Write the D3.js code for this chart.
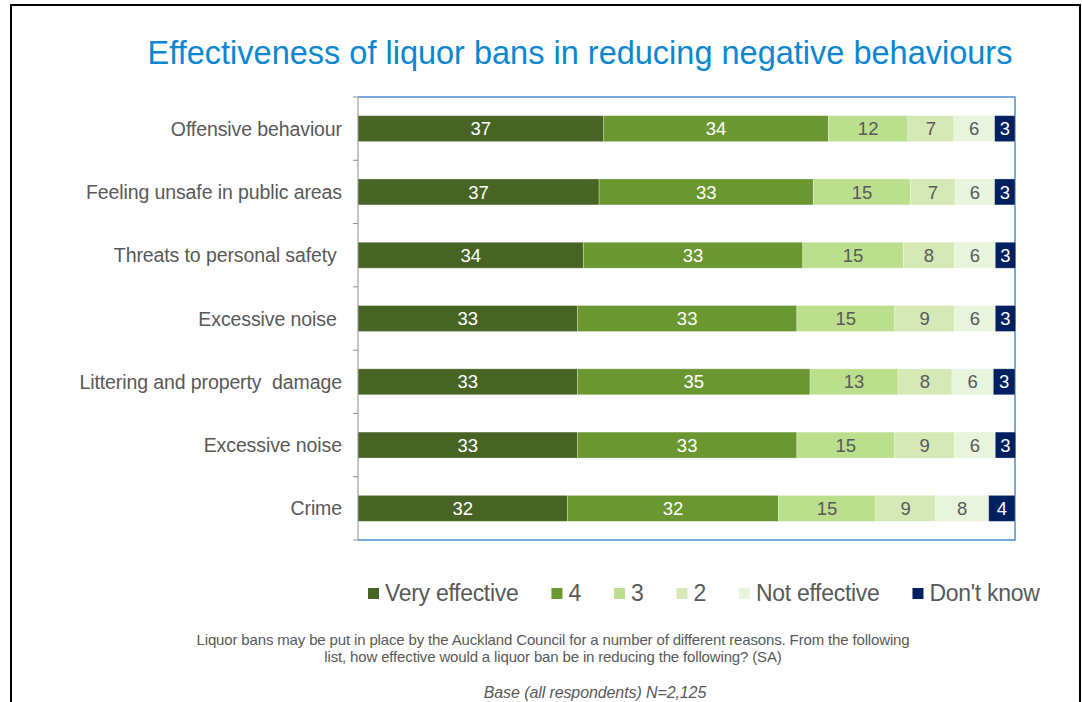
<!DOCTYPE html>
<html>
<head>
<meta charset="utf-8">
<script src="https://cdn.jsdelivr.net/npm/d3@7"></script>
<style>
  body { margin: 0; background: #fff; }
  svg { display: block; font-family: "Liberation Sans", Arial, sans-serif; }
</style>
</head>
<body>
<svg id="chart"></svg>
<script>
// categories (top to bottom)
const categories = [
    'Offensive behaviour',
    'Feeling unsafe in public areas',
    'Threats to personal safety ',
    'Excessive noise ',
    'Littering and property  damage',
    'Excessive noise',
    'Crime'
];

// response levels (stack order, left to right)
const levels = ['Very effective', '4', '3', '2', 'Not effective', "Don't know"];

// % of respondents for each level, one array per level, in category order
const veryEffective = [37.4, 36.7, 34.3, 33.4, 33.4, 33.4, 31.9];
const level4        = [34.2, 32.6, 33.4, 33.4, 35.4, 33.4, 32.1];
const level3        = [12.1, 14.8, 15.3, 14.9, 13.4, 14.9, 14.8];
const level2        = [7.0, 6.8, 7.8, 9.1, 8.2, 9.1, 9.1];
const notEffective  = [6.2, 6.0, 6.2, 6.2, 6.3, 6.2, 8.1];
const dontKnow      = [3.1, 3.1, 3.1, 3.1, 3.3, 3.1, 4.0];

const levelColors = ['#476424', '#6a9730', '#bcdf8d', '#d4e9b6', '#e8f4dc', '#002060'];
const labelColors = ['#ffffff', '#ffffff', '#595959', '#595959', '#595959', '#ffffff'];

const title = 'Effectiveness of liquor bans in reducing negative behaviours';
const questionLines = [
    'Liquor bans may be put in place by the Auckland Council for a number of different reasons.  From the following',
    'list, how effective would a liquor ban be in reducing the following? (SA)'
];
const baseNote = 'Base (all respondents) N=2,125';

class StackedBarChart {

    constructor(_config) {
        this.config = {
            parentElement: _config.parentElement,
            containerWidth: _config.containerWidth || 1082,
            containerHeight: _config.containerHeight || 702,
            margin: _config.margin || { top: 97, right: 67, bottom: 162, left: 358 }
        };
        this.initVis();
    }

    initVis() {
        let vis = this;

        vis.width = vis.config.containerWidth - vis.config.margin.left - vis.config.margin.right;
        vis.height = vis.config.containerHeight - vis.config.margin.top - vis.config.margin.bottom;

        vis.xScale = d3.scaleLinear()
            .domain([0, 100])
            .range([0, vis.width]);

        vis.yScale = d3.scaleBand()
            .domain(categories)
            .range([0, vis.height])
            .paddingInner(0.59)
            .paddingOuter(0.295);

        vis.color = d3.scaleOrdinal().domain(levels).range(levelColors);
        vis.labelColor = d3.scaleOrdinal().domain(levels).range(labelColors);

        vis.svg = d3.select(vis.config.parentElement)
            .attr('width', vis.config.containerWidth)
            .attr('height', vis.config.containerHeight);

        // slide frame
        vis.svg.append('path')
            .attr('d', `M11,${vis.config.containerHeight} V5 H1080 V${vis.config.containerHeight}`)
            .attr('fill', 'none')
            .attr('stroke', '#000')
            .attr('stroke-width', 2);

        vis.svg.append('text')
            .attr('x', 580)
            .attr('y', 64)
            .attr('text-anchor', 'middle')
            .attr('fill', '#0b86d0')
            .attr('font-size', 32.5)
            .text(title);

        vis.chart = vis.svg.append('g')
            .attr('transform', `translate(${vis.config.margin.left},${vis.config.margin.top})`);

        // plot area border (top, right, bottom)
        vis.chart.append('path')
            .attr('d', `M0,0 H${vis.width} V${vis.height} H0`)
            .attr('fill', 'none')
            .attr('stroke', '#4f8fd0')
            .attr('stroke-width', 1.5);

        vis.marks = vis.chart.append('g');
        vis.yAxisG = vis.chart.append('g').attr('class', 'axis y-axis');
        vis.legendG = vis.svg.append('g')
            .attr('transform', `translate(368,${vis.config.margin.top + vis.height + 61})`);

        const notes = vis.svg.append('g').attr('fill', '#595959');
        notes.selectAll('.question')
            .data(questionLines)
            .join('text')
            .attr('class', 'question')
            .attr('x', 553)
            .attr('y', (d, i) => 645 + i * 17)
            .attr('text-anchor', 'middle')
            .attr('font-size', 15)
            .attr('letter-spacing', -0.15)
            .text(d => d);
        notes.append('text')
            .attr('x', 595)
            .attr('y', 698)
            .attr('text-anchor', 'middle')
            .attr('font-size', 16)
            .attr('font-style', 'italic')
            .attr('letter-spacing', -0.1)
            .text(baseNote);

        vis.updateVis();
    }

    updateVis() {
        let vis = this;

        const seriesValues = [veryEffective, level4, level3, level2, notEffective, dontKnow];
        vis.rows = categories.map((c, i) => {
            const row = { category: c };
            levels.forEach((l, j) => row[l] = seriesValues[j][i]);
            return row;
        });
        vis.series = d3.stack().keys(levels)(vis.rows);

        vis.renderVis();
    }

    renderVis() {
        let vis = this;

        const groups = vis.marks.selectAll('.series')
            .data(vis.series)
            .join('g')
            .attr('class', 'series');

        groups.selectAll('rect')
            .data(d => d.map(p => ({ key: d.key, p })))
            .join('rect')
            .attr('x', d => vis.xScale(d.p[0]))
            .attr('y', d => vis.yScale(d.p.data.category))
            .attr('width', d => vis.xScale(d.p[1]) - vis.xScale(d.p[0]))
            .attr('height', vis.yScale.bandwidth())
            .attr('fill', d => vis.color(d.key))
            .attr('stroke', '#ffffff')
            .attr('stroke-opacity', 0.35)
            .attr('stroke-width', 0.8);

        groups.selectAll('text')
            .data(d => d.map(p => ({ key: d.key, p })))
            .join('text')
            .attr('x', d => vis.xScale((d.p[0] + d.p[1]) / 2))
            .attr('y', d => vis.yScale(d.p.data.category) + vis.yScale.bandwidth() / 2)
            .attr('dy', '0.36em')
            .attr('text-anchor', 'middle')
            .attr('font-size', 18.5)
            .attr('fill', d => vis.labelColor(d.key))
            .text(d => Math.round(d.p[1] - d.p[0]));

        // y axis: category names with ticks between bands
        vis.yAxisG.append('line')
            .attr('y1', 0).attr('y2', vis.height)
            .attr('stroke', '#8c8c8c');
        const step = vis.yScale.step();
        vis.yAxisG.selectAll('.tick')
            .data(d3.range(categories.length + 1))
            .join('line')
            .attr('class', 'tick')
            .attr('x1', -5).attr('x2', 0)
            .attr('y1', i => i * step).attr('y2', i => i * step)
            .attr('stroke', '#8c8c8c');
        vis.yAxisG.selectAll('.cat')
            .data(categories)
            .join('text')
            .attr('class', 'cat')
            .attr('x', -16)
            .attr('y', d => vis.yScale(d) + vis.yScale.bandwidth() / 2)
            .attr('dy', '0.36em')
            .attr('text-anchor', 'end')
            .attr('font-size', 19.5)
            .attr('fill', '#595959')
            .attr('letter-spacing', -0.1)
            .style('white-space', 'pre')
            .text(d => d);

        // legend
        let x = 0;
        levels.forEach(l => {
            const item = vis.legendG.append('g').attr('transform', `translate(${x},0)`);
            item.append('rect')
                .attr('x', 0).attr('y', -13)
                .attr('width', 11).attr('height', 11)
                .attr('fill', vis.color(l));
            const t = item.append('text')
                .attr('x', 17)
                .attr('y', 0)
                .attr('font-size', 23)
                .attr('fill', '#595959')
                .attr('letter-spacing', -0.3)
                .text(l);
            x += 17 + t.node().getComputedTextLength() + 33;
        });
    }
}

new StackedBarChart({ parentElement: '#chart' });
</script>
</body>
</html>
